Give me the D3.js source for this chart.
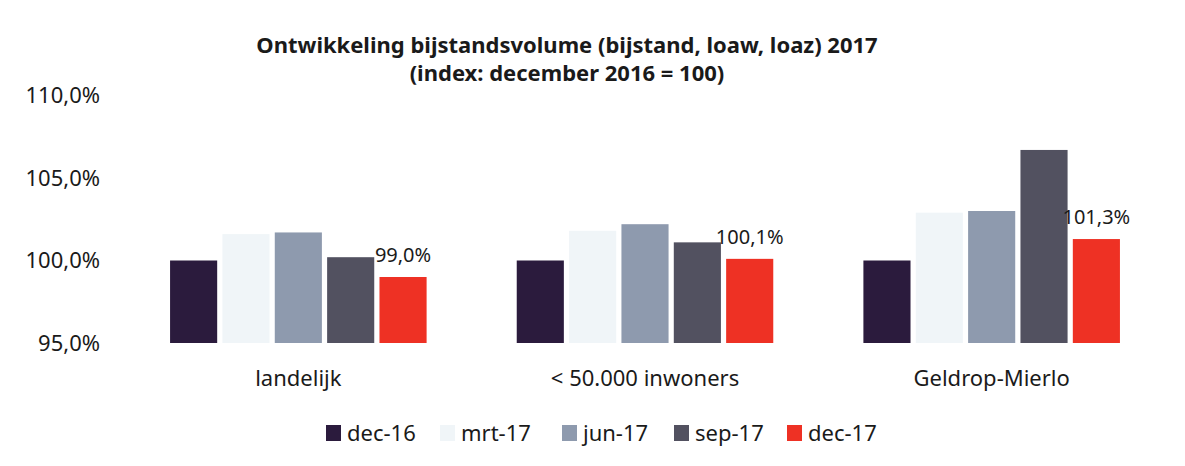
<html>
<head>
  <title>Ontwikkeling bijstandsvolume 2017</title>
  <script src="https://d3js.org/d3.v7.min.js"></script>
  <style>
    body { margin: 0; background: #ffffff; }
    text { font-family: "Noto Sans", "Open Sans", sans-serif; fill: #1a1a1a; }
  </style>
</head>
<body>
  <svg id="chart" width="1185" height="466"></svg>
  <script>
    const width = 1185;
    const height = 466;

    // categories and series
    const groups = ["landelijk", "< 50.000 inwoners", "Geldrop-Mierlo"];
    const periods = ["dec-16", "mrt-17", "jun-17", "sep-17", "dec-17"];

    // values per period, in group order (index, %)
    const dec16 = [100.0, 100.0, 100.0];
    const mrt17 = [101.6, 101.8, 102.9];
    const jun17 = [101.7, 102.2, 103.0];
    const sep17 = [100.2, 101.1, 106.7];
    const dec17 = [99.0, 100.1, 101.3];

    const yTicks = [95, 100, 105, 110];
    const colors = ["#2b1b3d", "#f0f5f8", "#8e9aae", "#525160", "#ee3124"];

    const series = [dec16, mrt17, jun17, sep17, dec17];
    const data = groups.map((g, i) => ({
      group: g,
      values: periods.map((p, j) => ({ period: p, value: series[j][i] }))
    }));

    const svg = d3.select("#chart");

    const x0 = d3.scaleBand()
      .domain(groups)
      .range([125, 1165])
      .paddingInner(0.26)
      .paddingOuter(0.13);

    const x1 = d3.scaleBand()
      .domain(periods)
      .range([0, x0.bandwidth()])
      .paddingInner(0.1);

    const y = d3.scaleLinear()
      .domain([95, 110])
      .range([343, 95.5]);

    const color = d3.scaleOrdinal().domain(periods).range(colors);

    // title
    const title = svg.append("text")
      .attr("x", 567)
      .attr("text-anchor", "middle")
      .style("font-weight", "bold")
      .style("font-size", "22px");
    title.append("tspan").attr("x", 567).attr("y", 53).text("Ontwikkeling bijstandsvolume (bijstand, loaw, loaz) 2017");
    title.append("tspan").attr("x", 567).attr("y", 81).text("(index: december 2016 = 100)");

    // y axis (labels only)
    const yAxis = svg.append("g")
      .attr("transform", "translate(100,0)")
      .call(d3.axisLeft(y).tickValues(yTicks).tickSize(0).tickPadding(0)
        .tickFormat(d => d3.format(".1f")(d).replace(".", ",") + "%"));
    yAxis.select(".domain").remove();
    yAxis.selectAll("text")
      .style("font-size", "22px")
      .style("font-family", "'Noto Sans', sans-serif")
      .attr("fill", "#1a1a1a");

    // bars
    const g = svg.selectAll("g.group")
      .data(data)
      .join("g")
      .attr("class", "group")
      .attr("transform", d => `translate(${x0(d.group)},0)`);

    g.selectAll("rect")
      .data(d => d.values)
      .join("rect")
      .attr("x", d => x1(d.period))
      .attr("y", d => y(d.value))
      .attr("width", x1.bandwidth())
      .attr("height", d => y(95) - y(d.value))
      .attr("fill", d => color(d.period));

    // data labels on last period
    g.append("text")
      .attr("x", x1("dec-17") + x1.bandwidth() / 2)
      .attr("y", d => y(d.values[4].value) - 15)
      .attr("text-anchor", "middle")
      .style("font-size", "20px")
      .attr("fill", "#333333")
      .text(d => d.values[4].value.toFixed(1).replace(".", ",") + "%");

    // x axis labels
    const xAxis = svg.append("g")
      .attr("transform", "translate(0,343)")
      .call(d3.axisBottom(x0).tickSize(0).tickPadding(0));
    xAxis.select(".domain").remove();
    xAxis.selectAll("text")
      .attr("dy", "43px")
      .style("font-size", "22px")
      .style("font-family", "'Noto Sans', sans-serif")
      .attr("fill", "#1a1a1a");

    // legend
    const legendX = [326, 440, 562, 674, 787];
    const legend = svg.append("g")
      .selectAll("g")
      .data(periods)
      .join("g")
      .attr("transform", (d, i) => `translate(${legendX[i]},433)`);

    legend.append("rect")
      .attr("x", 0)
      .attr("y", -8)
      .attr("width", 15)
      .attr("height", 16)
      .attr("fill", d => color(d));

    legend.append("text")
      .attr("x", 21)
      .attr("y", 8)
      .style("font-size", "22px")
      .text(d => d);
  </script>
</body>
</html>
